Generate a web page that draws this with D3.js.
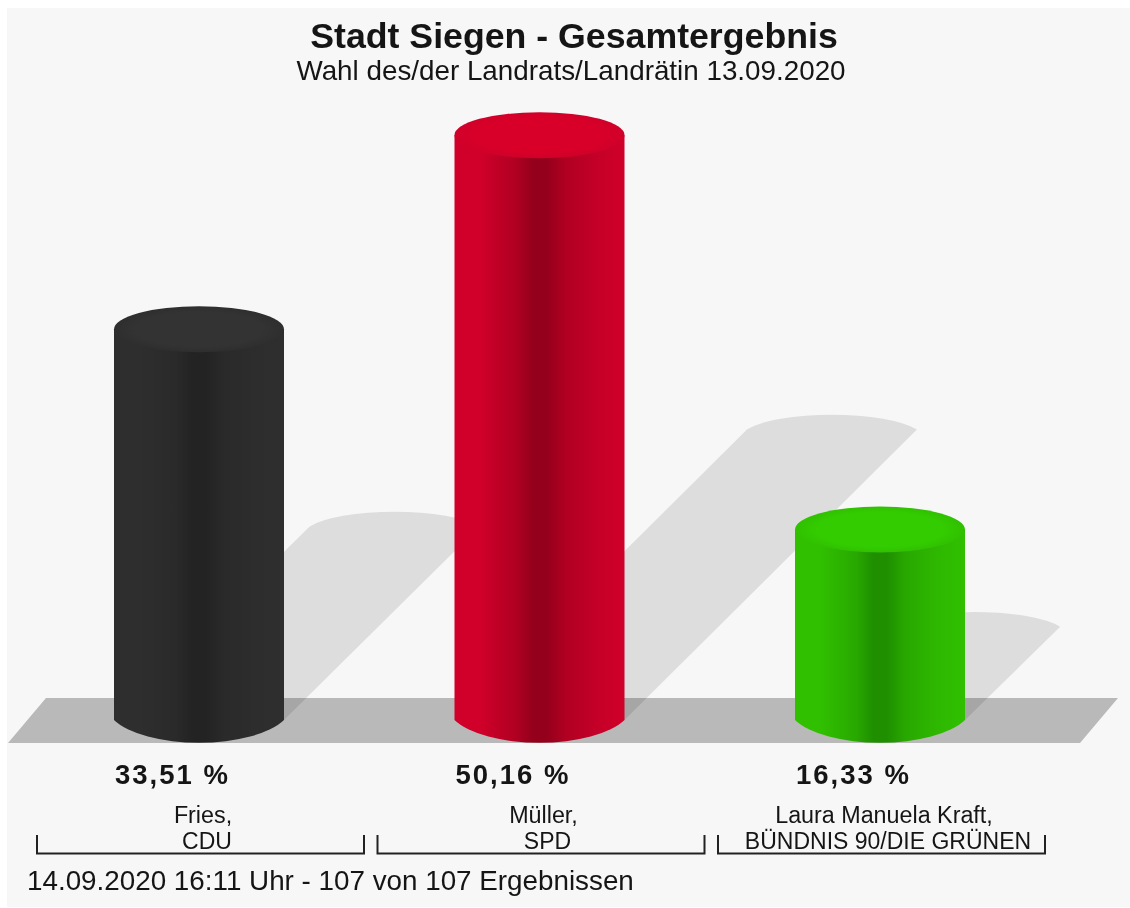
<!DOCTYPE html>
<html>
<head>
<meta charset="utf-8">
<script src="https://cdn.jsdelivr.net/npm/d3@7"></script>
<style>
  html, body { margin: 0; padding: 0; background: #fff; }
  svg { display: block; filter: blur(0.5px); }
  text { font-family: "Liberation Sans", Arial, sans-serif; fill: #151515; }
</style>
</head>
<body>
<div id="chart"></div>
<script>
"use strict"

const candidates = ["Fries,", "Müller,", "Laura Manuela Kraft,"]
const parties = ["CDU", "SPD", "BÜNDNIS 90/DIE GRÜNEN"]
const values = [33.51, 50.16, 16.33]
const capColors = ["#333333", "#d80028", "#33cc00"]
const edgeColors = ["#2e2e2e", "#d0002a", "#30c000"]
const innerColors = ["#2a2a2a", "#b00022", "#28a800"]
const midColors = ["#232323", "#94001b", "#1f8f00"]

const width = 1130, height = 908
const rx = 85, ry = 23
const baseY = 720

const svg = d3.select("#chart").append("svg")
  .attr("width", width)
  .attr("height", height)

svg.append("rect")
  .attr("x", 7).attr("y", 8)
  .attr("width", width - 7).attr("height", height - 9)
  .attr("fill", "#f7f7f7")

const x = d3.scalePoint().domain(parties).range([199, 880])
const y = d3.scaleLinear().domain([0, 60]).range([baseY, baseY - 60 * 11.66])

// gradients for the cylinder sides and caps
const defs = svg.append("defs")
parties.forEach((p, i) => {
  const side = defs.append("linearGradient").attr("id", "body" + i)
  const stops = [[0, edgeColors[i]], [0.15, edgeColors[i]], [0.36, innerColors[i]], [0.46, midColors[i]],
    [0.54, midColors[i]], [0.65, innerColors[i]], [0.85, d3.interpolateRgb(innerColors[i], edgeColors[i])(0.7)], [1, edgeColors[i]]]
  stops.forEach(s => side.append("stop").attr("offset", s[0]).attr("stop-color", s[1]))

  const cap = defs.append("radialGradient").attr("id", "cap" + i)
  cap.append("stop").attr("offset", 0.75).attr("stop-color", capColors[i])
  cap.append("stop").attr("offset", 1).attr("stop-color", edgeColors[i])
})

// floor
svg.append("path")
  .attr("d", "M8,743L1080,743L1118,698L46,698Z")
  .attr("fill", "#b9b9b9")

// shadows lean right at half the bar height
svg.append("g").selectAll("path")
  .data(parties)
  .join("path")
  .attr("fill", "#000")
  .attr("fill-opacity", 0.1)
  .attr("d", (p, i) => {
    const dy = (baseY - y(values[i])) / 2
    const l = x(p) - rx, r = x(p) + rx
    const topY = baseY - dy + 2
    return `M${l},${baseY}L${l + dy},${topY}A92,24 0 0 1 ${r + dy},${topY}L${r},${baseY}Z`
  })

const bars = svg.append("g").selectAll("g")
  .data(parties)
  .join("g")

bars.append("path")
  .attr("fill", (p, i) => `url(#body${i})`)
  .attr("d", (p, i) => {
    const l = x(p) - rx, r = x(p) + rx
    return `M${l},${y(values[i])}L${l},${baseY}A92,37 0 0 0 ${r},${baseY}L${r},${y(values[i])}Z`
  })

bars.append("ellipse")
  .attr("cx", p => x(p))
  .attr("cy", (p, i) => y(values[i]))
  .attr("rx", rx)
  .attr("ry", ry)
  .attr("fill", (p, i) => `url(#cap${i})`)

// value labels
svg.append("g").selectAll("text")
  .data(values)
  .join("text")
  .attr("x", (v, i) => x(parties[i]) - 26.5)
  .attr("y", 784)
  .attr("text-anchor", "middle")
  .attr("font-size", 27.5)
  .attr("font-weight", "bold")
  .attr("letter-spacing", 2)
  .text(v => v.toFixed(2).replace(".", ",") + " %")

// candidate and party labels
svg.append("g").selectAll("text")
  .data(candidates)
  .join("text")
  .attr("x", (c, i) => x(parties[i]) + 4)
  .attr("y", 823)
  .attr("text-anchor", "middle")
  .attr("font-size", 23.3)
  .text(c => c)

svg.append("g").selectAll("text")
  .data(parties)
  .join("text")
  .attr("x", p => x(p) + 8)
  .attr("y", 849)
  .attr("text-anchor", "middle")
  .attr("font-size", 23)
  .text(p => p)

// brackets under each party
svg.append("g").selectAll("path")
  .data(parties)
  .join("path")
  .attr("fill", "none")
  .attr("stroke", "#222")
  .attr("stroke-width", 2)
  .attr("d", p => {
    const l = x(p) - 162, r = x(p) + 165
    return `M${l},835L${l},853.5L${r},853.5L${r},835`
  })

// titles
svg.append("text")
  .attr("x", 574).attr("y", 48)
  .attr("text-anchor", "middle")
  .attr("font-size", 35.7)
  .attr("font-weight", "bold")
  .text("Stadt Siegen - Gesamtergebnis")

svg.append("text")
  .attr("x", 571).attr("y", 80)
  .attr("text-anchor", "middle")
  .attr("font-size", 27.8)
  .text("Wahl des/der Landrats/Landrätin 13.09.2020")

svg.append("text")
  .attr("x", 27).attr("y", 890)
  .attr("font-size", 27.8)
  .text("14.09.2020 16:11 Uhr - 107 von 107 Ergebnissen")
</script>
</body>
</html>
